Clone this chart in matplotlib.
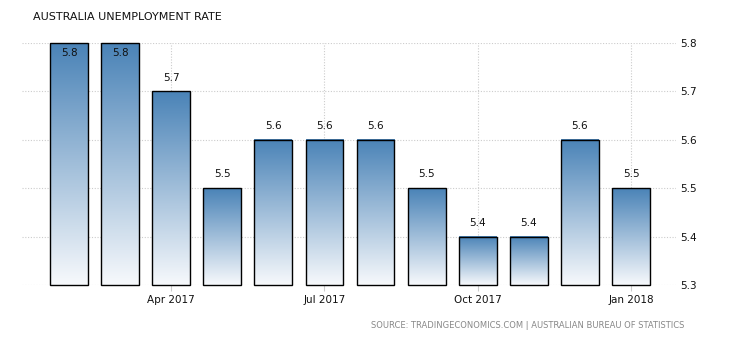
import numpy as np
import matplotlib
matplotlib.use("Agg")
import matplotlib.pyplot as plt
from matplotlib.colors import LinearSegmentedColormap

months = ["Feb 2017", "Mar 2017", "Apr 2017", "May 2017", "Jun 2017", "Jul 2017",
          "Aug 2017", "Sep 2017", "Oct 2017", "Nov 2017", "Dec 2017", "Jan 2018"]
values = [5.8, 5.8, 5.7, 5.5, 5.6, 5.6, 5.6, 5.5, 5.4, 5.4, 5.6, 5.5]
ytick_vals = [5.3, 5.4, 5.5, 5.6, 5.7, 5.8]
xtick_labels = {"Apr 2017": "Apr 2017", "Jul 2017": "Jul 2017",
                "Oct 2017": "Oct 2017", "Jan 2018": "Jan 2018"}

fig = plt.figure(figsize=(7.3, 3.4), dpi=100)
ax = fig.add_axes([22/730, 1-285/340, (676-22)/730, (285-43)/340])

ymin, ymax = 5.3, 5.8
x = np.arange(len(values))
w = 0.74
cmap = LinearSegmentedColormap.from_list("g", ["#f7f9fc", "#4a83b7"])
grad = np.linspace(0, 1, 256).reshape(-1, 1)

for xi, v in zip(x, values):
    ax.imshow(grad, extent=[xi - w/2, xi + w/2, ymin, v], origin="lower",
              aspect="auto", cmap=cmap, zorder=2)
bars = ax.bar(x, [v - ymin for v in values], bottom=ymin, width=w, facecolor="none",
              edgecolor="black", linewidth=1.0, zorder=3)
for b in bars:
    b.set_joinstyle("miter")
    b.set_clip_on(False)

for xi, v in zip(x, values):
    if v >= ymax - 0.01:
        ax.text(xi, v - 0.01, f"{v:.1f}", ha="center", va="top", fontsize=7.5,
                color="#111111", zorder=4)
    else:
        ax.text(xi, v + 0.018, f"{v:.1f}", ha="center", va="bottom", fontsize=7.5,
                color="#111111", zorder=4)

ax.set_xlim(-0.92, 11.88)
ax.set_ylim(ymin, ymax)

ax.set_yticks(ytick_vals)
ax.set_yticklabels([f"{t:.1f}" for t in ytick_vals])
ax.yaxis.tick_right()
ax.tick_params(axis="y", length=0, pad=3, labelsize=7.5, labelcolor="#111111")

tick_pos = [i for i, m in enumerate(months) if m in xtick_labels]
ax.set_xticks(tick_pos)
ax.set_xticklabels([xtick_labels[months[i]] for i in tick_pos])
ax.tick_params(axis="x", length=4, color="#cccccc", pad=3, labelsize=7.5,
               labelcolor="#111111")

ax.grid(True, color="#cccccc", linestyle=(0, (1, 1.5)), linewidth=0.8, zorder=0)
ax.set_axisbelow(True)
for s in ax.spines.values():
    s.set_visible(False)

fig.text(33/730, 1-17/340, "AUSTRALIA UNEMPLOYMENT RATE", fontsize=8,
         color="#111111", va="center", ha="left")
fig.text(684/730, 1-326/340,
         "SOURCE: TRADINGECONOMICS.COM | AUSTRALIAN BUREAU OF STATISTICS",
         fontsize=6, color="#888888", va="center", ha="right")

fig.savefig("out.png", dpi=100)
